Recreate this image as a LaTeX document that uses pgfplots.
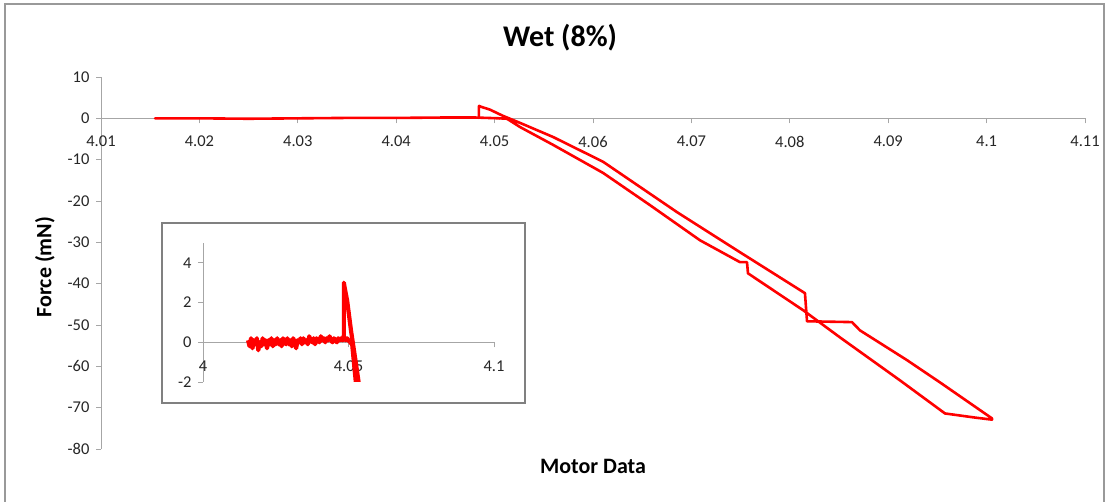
\documentclass[border=0pt]{standalone}
\usepackage{fontspec}
\setmainfont{Carlito}
\usepackage{pgfplots}
\pgfplotsset{compat=1.18}
\usepackage{pgfplotstable}

% Loop after the flat approach (shared by both panels)
\pgfplotstableread{
x y
4.0505 0.0
4.05126 -0.1
4.05258 -2.1
4.05593 -6.4
4.06102 -13.2
4.06579 -21.0
4.07087 -29.5
4.07494 -34.8
4.07565 -34.8
4.07575 -37.5
4.08134 -46.4
4.08510 -53.0
4.09120 -63.4
4.09577 -71.4
4.09883 -72.4
4.10055 -72.9
4.10055 -72.6
4.09527 -63.9
4.09191 -58.5
4.08713 -51.3
4.08632 -49.3
4.08175 -49.1
4.08154 -42.3
4.07494 -32.4
4.06854 -22.7
4.06102 -10.5
4.05593 -4.5
4.05258 -1.1
4.05085 0.6
4.04953 2.1
4.04862 2.8
4.04841 3.0
4.04840 0.1
}\loopdata

% Flat approach as seen at the main scale
\pgfplotstableread{
x y
4.0155 0.0
4.0200 0.0
4.0250 -0.1
4.0300 0.0
4.0350 0.1
4.0400 0.1
4.0450 0.2
4.0480 0.2
4.0505 0.0
}\flatmain

% Flat approach as seen at the inset scale
\pgfplotstableread{
x y
4.0155 0.1
4.0160 -0.2
4.0165 0.2
4.0170 -0.3
4.0175 0.1
4.0180 -0.1
4.0185 0.2
4.0190 -0.4
4.0195 0.0
4.0200 -0.2
4.0205 0.2
4.0210 -0.1
4.0215 0.1
4.0220 -0.3
4.0225 0.1
4.0230 -0.1
4.0235 0.2
4.0240 -0.2
4.0245 0.1
4.0250 -0.1
4.0255 0.2
4.0260 -0.1
4.0265 0.1
4.0270 -0.2
4.0275 0.2
4.0280 0.0
4.0285 -0.1
4.0290 0.2
4.0295 -0.1
4.0300 0.1
4.0305 -0.2
4.0310 0.2
4.0315 0.0
4.0320 -0.3
4.0325 0.1
4.0330 0.0
4.0335 0.2
4.0340 -0.1
4.0345 0.2
4.0350 0.0
4.0355 0.1
4.0360 -0.1
4.0365 0.3
4.0370 0.1
4.0375 0.0
4.0380 0.2
4.0385 -0.1
4.0390 0.2
4.0395 0.1
4.0400 0.0
4.0405 0.3
4.0410 0.1
4.0415 0.2
4.0420 0.0
4.0425 0.2
4.0430 0.1
4.0435 0.3
4.0440 0.1
4.0445 0.0
4.0450 0.2
4.0455 0.1
4.0460 0.0
4.0465 0.2
4.0470 0.1
4.0475 0.2
4.0480 0.1
4.0485 0.2
4.0490 0.1
4.0495 0.2
4.0500 0.1
4.0505 0.0
}\flatinset

\begin{document}
\begin{tikzpicture}[x=1pt,y=1pt]
\useasboundingbox (0,0) rectangle (1111,501);
\draw[line width=1.6pt, color=black!40] (5,-5) -- (5,497) -- (1104,497) -- (1104,-5);

\node[font=\bfseries\fontsize{30}{30}\selectfont] at (560,463) {Wet (8\%)};
\node[font=\bfseries\fontsize{22}{22}\selectfont, rotate=90] at (45,234) {Force (mN)};
\node[font=\bfseries\fontsize{22}{22}\selectfont] at (593,35) {Motor Data};

\begin{axis}[
  at={(101pt,52pt)}, anchor=south west,
  scale only axis, width=984pt, height=372pt,
  xmin=4.01, xmax=4.11, ymin=-80, ymax=10,
  axis x line*=middle, axis y line*=left,
  hide obscured x ticks=false, hide obscured y ticks=false,
  axis line style={color=black!35, line width=0.9pt},
  xtick={4.01,4.02,4.03,4.04,4.05,4.06,4.07,4.08,4.09,4.1,4.11},
  xticklabels={4.01,4.02,4.03,4.04,4.05,4.06,4.07,4.08,4.09,4.1,4.11},
  ytick={-80,-70,-60,-50,-40,-30,-20,-10,0,10},
  yticklabels={-80,-70,-60,-50,-40,-30,-20,-10,0,10},
  tick align=outside, major tick length=5pt,
  tick style={color=black!35, line width=0.9pt},
  ticklabel style={font=\fontsize{16.5}{16.5}\selectfont, text=black!85},
  xticklabel style={yshift=-9pt},
  yticklabel style={xshift=-3pt},
  clip=false,
]
\addplot[color=red, line width=2.6pt, line join=round, line cap=round] table[x=x,y=y] {\flatmain};
\addplot[color=red, line width=2.6pt, line join=round, line cap=round] table[x=x,y=y] {\loopdata};
\end{axis}

\filldraw[fill=white, draw=black!50, line width=1.1pt] (162,98) rectangle (525,278);

\begin{axis}[
  at={(203pt,119pt)}, anchor=south west,
  scale only axis, width=291pt, height=139pt,
  xmin=4, xmax=4.1, ymin=-2, ymax=5,
  axis x line*=middle, axis y line*=left,
  hide obscured x ticks=false, hide obscured y ticks=false,
  axis line style={color=black!35, line width=0.9pt},
  xtick={4,4.05,4.1}, xticklabels={4,4.05,4.1},
  ytick={-2,0,2,4}, yticklabels={-2,0,2,4},
  tick align=outside, major tick length=5pt,
  tick style={color=black!35, line width=0.9pt},
  ticklabel style={font=\fontsize{16.5}{16.5}\selectfont, text=black!85},
  xticklabel style={yshift=-10pt},
  yticklabel style={xshift=-3pt},
]
\addplot[color=red, line width=4.2pt, line join=round] table[x=x,y=y] {\flatinset};
\addplot[color=red, line width=4.2pt, line join=round] table[x=x,y=y] {\loopdata};
\end{axis}
\end{tikzpicture}
\end{document}
